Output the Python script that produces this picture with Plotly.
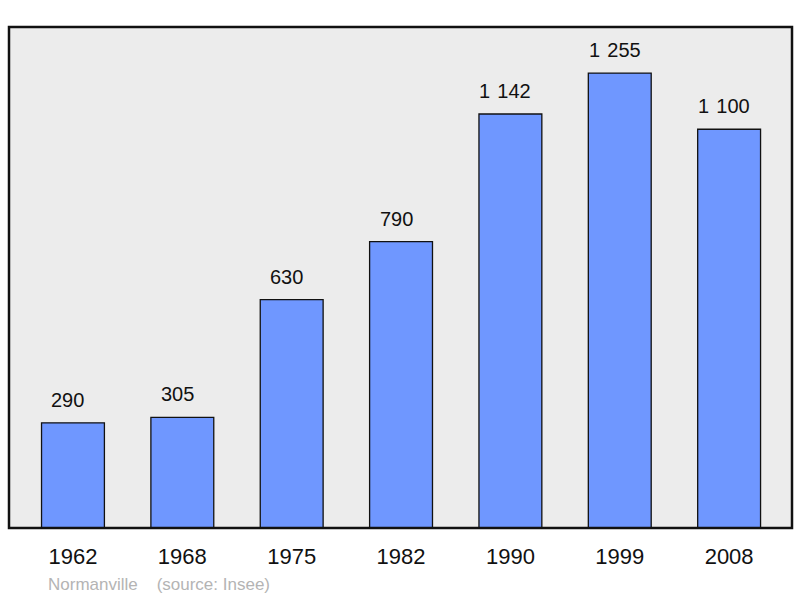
import plotly.graph_objects as go

years = ["1962", "1968", "1975", "1982", "1990", "1999", "2008"]
population = [290, 305, 630, 790, 1142, 1255, 1100]
footer = "Normanville    (source: Insee)"

FONT = "Liberation Sans, Arial, sans-serif"

def fmt(v):
    return f"{v:,}".replace(",", "&nbsp;&#8202;")

fig = go.Figure()
fig.add_trace(go.Bar(
    x=years, y=population, width=0.575,
    marker=dict(color="#6f97ff", line=dict(color="#111111", width=1.3)),
    hoverinfo="skip",
))

for i, v in enumerate(population):
    fig.add_annotation(x=i, y=v, xref="x", yref="y", text=fmt(v), showarrow=False,
                       yanchor="bottom", yshift=10, xshift=-5,
                       font=dict(family=FONT, size=20, color="#111111"))

fig.add_shape(type="rect", xref="paper", yref="paper", x0=0, y0=0, x1=1, y1=1,
              line=dict(color="#111111", width=2.5), layer="above")

fig.add_annotation(xref="paper", yref="paper", x=0.047, y=0, yshift=-56,
                   xanchor="left", yanchor="middle", text=footer.replace(" ", "&nbsp;"),
                   showarrow=False,
                   font=dict(family=FONT, size=17, color="#b4b4b4"))

fig.update_layout(
    width=800, height=598,
    margin=dict(l=9, r=8, t=27, b=70),
    paper_bgcolor="white", plot_bgcolor="#ececec",
    showlegend=False,
    xaxis=dict(type="category", range=[-0.585, 6.575], showgrid=False, zeroline=False, showline=False,
               ticks="outside", ticklen=9, tickcolor="rgba(0,0,0,0)",
               tickfont=dict(family=FONT, size=22, color="#111111")),
    yaxis=dict(range=[0, 1382], showgrid=False, zeroline=False, showticklabels=False, showline=False),
)

fig.write_html("out.html", config={"displayModeBar": False},
               post_script="document.body.style.margin='0';document.body.style.overflow='hidden';")
